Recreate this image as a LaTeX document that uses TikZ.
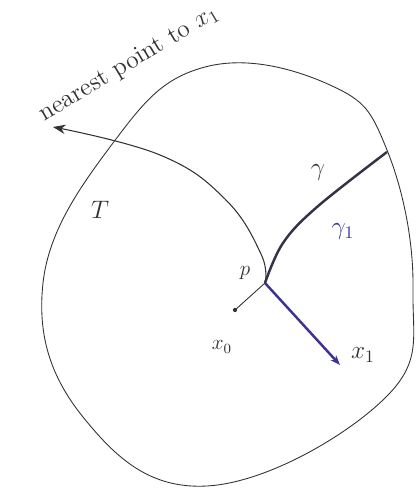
\documentclass[tikz,border=0pt]{standalone}
\definecolor{gammaBlue}{RGB}{60,50,150}
\definecolor{inkGray}{RGB}{50,50,50}
\usepackage{tikz}
\usepackage{amsmath}
\usetikzlibrary{arrows.meta}

\begin{document}
\begin{tikzpicture}[
  lbl/.style={font=\Large, text=inkGray},
  thin line/.style={draw=inkGray, line width=0.5pt},
  arr/.style={-{Stealth[length=2.5mm]}, draw=inkGray, line width=0.6pt}
]
  \useasboundingbox (0,0) rectangle (8.36,9.78);

  % the region
  \draw[thin line] plot[smooth cycle, tension=0.7] coordinates {
    (4.10,8.44) (2.26,6.92) (0.86,4.12) (1.66,1.44) (4.14,0.06)
    (7.66,1.78) (8.26,3.98) (7.74,6.78) (6.60,8.08)};

  % points
  \coordinate (p)  at (5.30,4.12);
  \coordinate (x0) at (4.70,3.58);
  \coordinate (x1) at (6.80,2.48);
  \coordinate (g)  at (7.74,6.74);
  \coordinate (np) at (1.06,7.24);

  \fill[inkGray] (x0) circle (1.2pt);
  \draw[thin line] (x0) -- (p);

  % curve gamma
  \draw[line width=1.4pt, draw=inkGray!80!gammaBlue]
    plot[smooth, tension=0.6] coordinates {(p) (5.66,4.92) (6.34,5.64) (g)};

  % segment to x1
  \draw[line width=1.4pt, gammaBlue, -{Stealth[length=2mm]}] (p) -- (x1);

  % arrow to nearest point
  \draw[arr] plot[smooth, tension=0.7] coordinates
    {(p) (5.22,4.70) (4.50,5.80) (3.20,6.68) (np)};

  % labels
  \node[lbl, rotate=31] (lnp) at (2.58,8.50) {nearest point to $x_1$};
  \node[lbl] (lT)  at (2.00,5.58) {$T$};
  \node[lbl] (lg)  at (6.36,6.32) {$\gamma$};
  \node[lbl, text=gammaBlue] (lg1) at (6.86,5.14) {$\gamma_1$};
  \node[lbl, font=\large] (lp)  at (4.90,4.32) {$p$};
  \node[lbl, font=\large] (lx0) at (4.44,2.84) {$x_0$};
  \node[lbl] (lx1) at (7.26,2.68) {$x_1$};
\end{tikzpicture}
\end{document}
